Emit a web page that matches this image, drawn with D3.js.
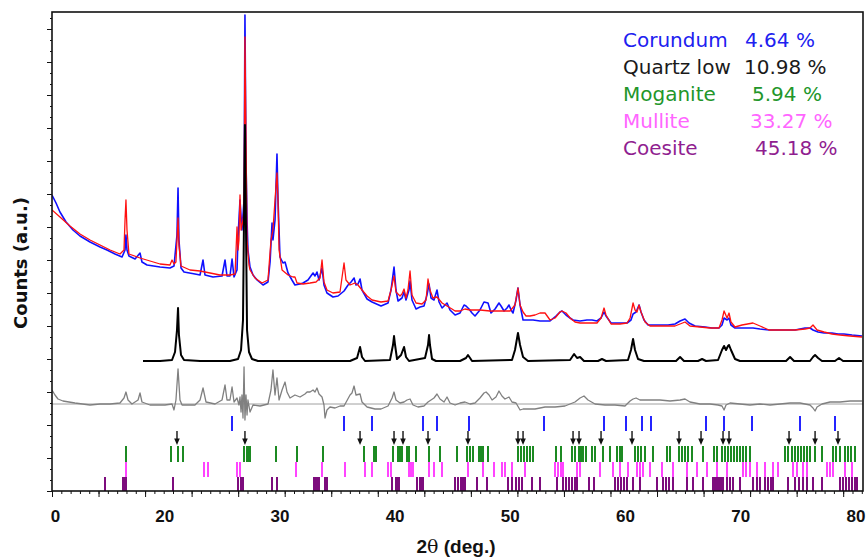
<!DOCTYPE html>
<html>
<head>
<meta charset="utf-8">
<script src="https://cdn.jsdelivr.net/npm/d3@7"></script>
<style>
  body { margin: 0; background: #fff; }
  svg { display: block; }
</style>
</head>
<body>
<svg id="chart" width="866" height="558"></svg>
<script>
// ---- Pattern data: [2θ (deg), counts (a.u.)] ----
const observed = [[10.00,2960],[10.35,2880],[10.69,2790],[11.22,2690],[11.82,2610],[12.43,2550],[13.30,2490],[14.17,2440],[14.77,2410],[15.47,2370],[16.08,2340],[16.34,2410],[16.42,2560],[16.51,2410],[16.68,2350],[17.21,2320],[17.64,2380],[17.81,2290],[18.25,2260],[19.38,2240],[20.24,2230],[20.59,2250],[20.85,2560],[20.94,3030],[21.02,2510],[21.20,2230],[21.46,2190],[22.41,2170],[22.85,2160],[23.11,2310],[23.28,2160],[23.98,2140],[24.76,2150],[25.02,2310],[25.19,2150],[25.45,2150],[25.63,2320],[25.80,2140],[26.06,2210],[26.15,2540],[26.32,2910],[26.49,2610],[26.58,2760],[26.67,2910],[26.75,4760],[26.84,3310],[26.93,2710],[27.01,2410],[27.19,2240],[27.45,2160],[27.80,2110],[28.32,2060],[28.75,2090],[28.93,2290],[29.10,2680],[29.18,2510],[29.36,2710],[29.53,3370],[29.62,2910],[29.79,2340],[30.05,2280],[30.23,2290],[30.49,2180],[30.83,2110],[31.09,2060],[31.53,2070],[31.79,2080],[32.22,2110],[32.66,2180],[32.83,2150],[33.00,2190],[33.18,2110],[33.44,2230],[33.61,2060],[33.87,1980],[34.39,1940],[34.83,1950],[35.35,2000],[35.70,2060],[35.96,2090],[36.22,2130],[36.39,2060],[36.56,2070],[36.74,2120],[36.91,2010],[37.35,1920],[37.78,1890],[38.56,1850],[39.17,1880],[39.43,2010],[39.69,2240],[39.86,2010],[40.04,1900],[40.38,1930],[40.56,1990],[40.73,1910],[40.99,2010],[41.08,2100],[41.25,1910],[41.60,1820],[41.95,1840],[42.29,1850],[42.55,1960],[42.73,2070],[42.90,1930],[43.16,1910],[43.42,2010],[43.60,1890],[43.86,1830],[44.12,1860],[44.29,1880],[44.55,1810],[44.99,1760],[45.42,1780],[45.77,1860],[45.94,1850],[46.20,1820],[46.46,1780],[46.72,1750],[47.15,1810],[47.50,1890],[47.85,1880],[48.11,1780],[48.46,1820],[48.80,1880],[48.98,1850],[49.24,1800],[49.50,1830],[49.67,1860],[49.85,1810],[50.02,1780],[50.28,1910],[50.45,2030],[50.63,1860],[50.89,1710],[51.32,1710],[51.76,1710],[52.36,1700],[52.80,1700],[53.23,1700],[53.75,1750],[54.10,1790],[54.27,1800],[54.62,1760],[54.97,1730],[55.23,1710],[55.84,1700],[56.44,1710],[56.88,1710],[57.31,1700],[57.66,1730],[57.92,1790],[58.09,1750],[58.53,1680],[59.31,1680],[59.92,1680],[60.26,1710],[60.44,1770],[60.70,1790],[60.96,1860],[61.13,1790],[61.39,1710],[61.74,1660],[62.35,1660],[62.96,1660],[63.48,1660],[64.08,1670],[64.52,1700],[64.95,1720],[65.30,1680],[65.82,1650],[66.69,1640],[67.29,1630],[67.90,1630],[68.16,1660],[68.34,1730],[68.60,1710],[68.77,1730],[68.94,1660],[69.29,1630],[69.90,1630],[70.85,1630],[71.46,1620],[72.24,1610],[73.02,1610],[73.72,1610],[74.50,1610],[74.93,1620],[75.37,1630],[75.80,1630],[76.06,1610],[76.50,1590],[77.02,1580],[77.71,1580],[78.23,1570],[78.75,1570],[79.45,1560],[80.31,1550]];

const calculated = [[10.00,2810],[10.69,2740],[11.56,2650],[12.43,2570],[13.30,2510],[14.17,2460],[15.04,2410],[15.90,2370],[16.25,2410],[16.34,2710],[16.42,2910],[16.51,2610],[16.68,2370],[17.64,2330],[19.38,2270],[20.24,2260],[20.42,2310],[20.59,2270],[20.76,2290],[20.85,2510],[20.94,2730],[21.02,2460],[21.20,2250],[21.98,2210],[22.85,2200],[23.72,2180],[24.58,2160],[25.45,2160],[25.89,2170],[26.06,2640],[26.15,2410],[26.23,2510],[26.32,2960],[26.41,2610],[26.58,2710],[26.67,2810],[26.75,4540],[26.93,2510],[27.10,2260],[27.19,2210],[27.62,2130],[28.23,2080],[28.75,2110],[29.01,2510],[29.18,2610],[29.36,2910],[29.53,3180],[29.62,2910],[29.71,2410],[29.97,2210],[30.49,2160],[30.92,2140],[31.09,2140],[31.27,2080],[31.79,2070],[32.40,2080],[32.92,2090],[33.26,2130],[33.44,2310],[33.61,2090],[33.87,2010],[34.39,1980],[35.00,1990],[35.35,2280],[35.52,2110],[35.87,2060],[36.30,2080],[36.56,2060],[36.91,2010],[37.35,1950],[37.78,1910],[38.56,1890],[39.17,1900],[39.43,2010],[39.69,2150],[39.86,1990],[40.21,1950],[40.38,1970],[40.56,2020],[40.73,1930],[40.90,2010],[41.08,2200],[41.25,1960],[41.60,1880],[42.12,1870],[42.47,1910],[42.64,2120],[42.81,2010],[43.07,1930],[43.42,1940],[43.86,1880],[44.29,1850],[44.72,1820],[44.99,1800],[45.42,1800],[45.85,1820],[46.29,1810],[47.15,1810],[48.02,1800],[48.89,1800],[49.76,1800],[50.19,1860],[50.45,2030],[50.63,1860],[50.89,1790],[51.15,1750],[51.49,1750],[51.93,1760],[52.36,1780],[52.80,1780],[53.23,1710],[53.67,1730],[54.10,1790],[54.27,1800],[54.62,1780],[54.97,1730],[55.40,1690],[55.84,1680],[56.27,1680],[56.70,1680],[57.31,1680],[57.66,1730],[57.92,1830],[58.09,1760],[58.53,1670],[59.31,1670],[59.92,1680],[60.18,1730],[60.44,1880],[60.61,1810],[60.78,1790],[60.96,1860],[61.13,1790],[61.48,1690],[61.91,1650],[62.78,1650],[63.48,1650],[64.08,1650],[64.52,1670],[64.95,1690],[65.38,1650],[66.25,1640],[67.12,1630],[67.90,1630],[68.16,1710],[68.34,1800],[68.60,1730],[68.77,1780],[68.94,1690],[69.29,1640],[69.90,1660],[70.85,1680],[71.46,1650],[72.24,1610],[73.02,1610],[73.72,1610],[74.50,1610],[75.37,1620],[75.80,1630],[76.06,1660],[76.41,1610],[77.02,1590],[77.71,1570],[78.41,1560],[79.28,1550],[80.31,1540]];

const quartzProfile = [[17.90,1300],[19.38,1300],[20.42,1310],[20.68,1390],[20.85,1610],[20.94,1830],[21.02,1560],[21.20,1360],[21.46,1310],[22.85,1300],[25.45,1300],[26.15,1320],[26.41,1410],[26.58,1710],[26.75,3660],[26.93,1610],[27.10,1390],[27.36,1320],[27.88,1300],[35.87,1300],[36.48,1330],[36.74,1440],[36.91,1340],[37.17,1300],[39.34,1310],[39.60,1460],[39.69,1550],[39.78,1460],[39.95,1320],[40.30,1360],[40.56,1440],[40.73,1340],[40.99,1300],[42.38,1330],[42.64,1460],[42.73,1560],[42.81,1460],[42.99,1320],[43.33,1300],[45.42,1300],[45.94,1330],[46.11,1360],[46.29,1330],[46.46,1300],[49.93,1310],[50.19,1410],[50.45,1580],[50.63,1460],[50.89,1340],[51.32,1300],[54.97,1310],[55.32,1370],[55.58,1330],[55.84,1340],[56.18,1300],[57.40,1300],[57.74,1320],[58.09,1300],[60.00,1310],[60.26,1410],[60.44,1520],[60.61,1410],[60.87,1320],[61.39,1300],[64.17,1300],[64.52,1340],[64.86,1300],[66.08,1300],[66.43,1320],[66.77,1300],[67.82,1310],[68.16,1410],[68.34,1450],[68.51,1410],[68.68,1450],[68.77,1460],[68.94,1410],[69.29,1320],[69.72,1300],[73.72,1300],[74.07,1340],[74.41,1300],[75.80,1300],[76.06,1340],[76.24,1360],[76.50,1330],[76.84,1300],[77.97,1300],[78.32,1330],[78.67,1300],[80.31,1300]];

const differenceZero = 870;
const difference = [[10.00,1010],[10.26,960],[10.52,920],[10.95,900],[11.99,880],[13.30,860],[14.17,870],[15.04,870],[15.90,880],[16.25,930],[16.42,990],[16.60,910],[16.94,870],[17.47,910],[17.64,980],[17.81,890],[18.51,860],[19.81,860],[20.42,870],[20.59,810],[20.76,910],[20.94,1220],[21.11,910],[21.29,860],[22.41,860],[22.85,910],[23.11,1030],[23.37,890],[24.15,870],[24.76,910],[25.02,1060],[25.19,910],[25.45,910],[25.63,1040],[25.80,890],[26.06,930],[26.23,860],[26.32,940],[26.41,790],[26.49,960],[26.58,730],[26.67,1240],[26.75,710],[26.84,960],[26.93,760],[27.01,910],[27.19,790],[27.45,860],[28.06,850],[28.75,870],[29.01,1010],[29.18,1210],[29.36,960],[29.53,1130],[29.71,910],[29.97,1010],[30.23,1090],[30.40,990],[30.66,930],[31.09,960],[31.53,940],[31.96,970],[32.14,990],[32.40,990],[32.66,1010],[32.83,990],[33.00,1030],[33.18,970],[33.44,940],[33.61,860],[33.70,730],[33.87,810],[34.13,840],[34.57,830],[35.00,850],[35.35,850],[35.87,960],[36.04,980],[36.22,1050],[36.39,960],[36.74,970],[36.91,890],[37.35,840],[38.04,820],[38.56,820],[39.17,850],[39.52,930],[39.69,990],[39.86,910],[40.21,880],[40.56,890],[40.82,910],[41.08,920],[41.34,860],[41.77,840],[42.29,850],[42.64,890],[42.90,910],[43.16,930],[43.42,970],[43.68,920],[44.03,890],[44.29,940],[44.55,880],[44.99,860],[45.42,880],[45.85,890],[46.29,870],[46.72,880],[47.15,930],[47.50,980],[47.68,990],[47.94,960],[48.20,910],[48.54,940],[48.80,1000],[49.06,950],[49.32,920],[49.67,940],[49.93,890],[50.28,880],[50.63,810],[50.89,820],[51.32,820],[51.93,820],[52.80,840],[53.67,840],[54.53,850],[55.40,890],[55.84,930],[56.18,950],[56.53,910],[57.14,870],[58.01,860],[58.87,860],[59.74,850],[60.18,900],[60.44,920],[60.70,930],[61.04,910],[61.91,910],[62.78,910],[63.65,900],[64.52,910],[64.95,920],[65.38,890],[66.25,870],[67.12,870],[67.82,860],[68.16,850],[68.34,810],[68.51,860],[68.86,880],[69.72,870],[70.59,860],[71.46,870],[72.33,860],[73.20,870],[74.07,880],[74.93,880],[75.80,860],[76.06,830],[76.24,800],[76.41,840],[76.84,870],[77.54,890],[78.41,890],[79.28,900],[80.31,900]];

// ---- Bragg reflection positions (2θ) for each phase ----
const corundumPeaks = [25.63,35.35,37.78,42.21,43.42,46.20,52.71,57.92,59.83,61.22,62.00,66.77,68.34,70.77,74.93,77.97];
const quartzPeaks = [20.85,26.75,36.74,39.69,40.47,42.64,46.11,50.45,50.89,55.23,55.75,57.66,60.35,64.43,66.34,68.25,68.77,73.98,76.24,78.23];
const moganitePeaks = [16.42,20.33,20.94,21.37,26.67,26.93,27.01,27.19,29.45,31.27,33.52,37.08,37.95,38.13,39.60,40.04,40.21,40.38,40.82,40.99,41.60,42.73,43.68,45.16,46.03,46.29,46.55,47.07,47.24,47.42,47.85,50.45,50.71,50.97,51.23,51.49,51.76,53.75,54.19,55.14,55.40,55.75,55.92,56.10,56.36,56.88,57.14,57.83,58.44,59.05,59.31,59.48,60.61,60.87,61.13,61.48,62.17,63.39,63.65,64.43,64.69,64.95,65.21,65.56,66.51,67.47,67.73,68.16,68.42,68.68,68.94,69.20,69.46,69.72,69.98,70.25,70.59,73.63,73.89,74.24,74.50,74.76,75.02,75.28,75.54,75.80,76.24,76.84,77.80,78.06,78.41,78.84,79.10,79.36,79.71];
const mullitePeaks = [16.42,23.20,23.54,26.06,26.32,31.18,33.44,35.44,37.17,37.78,39.17,39.43,40.99,41.16,41.34,42.73,43.16,43.86,46.11,47.42,48.37,49.06,49.32,49.93,51.06,53.67,53.93,54.19,54.36,55.58,55.84,57.57,58.70,59.31,60.00,60.78,61.04,61.30,61.91,62.96,63.91,65.12,65.99,66.86,67.73,68.60,69.98,70.25,70.59,71.20,71.90,72.59,73.02,74.33,74.67,75.19,75.54,77.28,77.54,77.80,78.84,79.45];
const coesitePeaks = [14.60,16.16,16.25,16.42,20.50,26.15,26.41,26.58,29.10,29.53,32.74,32.92,33.09,33.18,33.70,33.87,39.52,39.86,40.04,40.12,41.69,41.95,42.12,42.21,44.99,45.25,45.51,45.68,45.85,46.89,47.76,49.59,49.93,50.28,50.54,50.80,51.67,52.36,53.84,54.36,54.62,54.88,55.14,55.40,55.58,56.62,57.05,58.87,59.13,59.39,59.66,59.92,60.44,61.04,62.52,63.04,63.30,63.56,63.91,65.12,65.64,66.51,67.38,67.56,67.73,67.90,68.08,68.25,68.60,68.86,69.12,69.72,70.85,71.20,71.46,71.90,72.16,72.42,72.59,73.89,74.50,74.85,75.19,75.54,76.06,76.84,78.41,78.67,78.93,79.19,79.45,79.71,79.88];

// ---- Legend (phase fractions) ----
const phaseNames = ["Corundum", "Quartz low", "Moganite", "Mullite", "Coesite"];
const phaseFractions = ["4.64 %", "10.98 %", "5.94 %", "33.27 %", "45.18 %"];
const phaseColors = ["#2020f0", "#1a1a1a", "#22962a", "#ff66ff", "#901e90"];

// ---- Axis tick labels ----
const xLabelValues = [10, 20, 30, 40, 50, 60, 70, 80];
const xLabelTexts = ["0", "20", "30", "40", "50", "60", "70", "80"];

// ---- Layout ----
const plot = { left: 52, right: 863, top: 12, bottom: 491 };
const svg = d3.select("#chart");

const x = d3.scaleLinear().domain([10, 80.4]).range([plot.left, plot.right]);
const y = d3.scaleLinear().domain([0, 4790]).range([plot.bottom, plot.top]);

svg.append("defs").append("clipPath").attr("id", "plotClip")
  .append("rect")
  .attr("x", plot.left).attr("y", plot.top)
  .attr("width", plot.right - plot.left).attr("height", plot.bottom - plot.top);

const g = svg.append("g").attr("clip-path", "url(#plotClip)");
const line = d3.line().x(d => x(d[0])).y(d => y(d[1]));

// difference curve and its zero line
g.append("line")
  .attr("x1", plot.left).attr("x2", plot.right)
  .attr("y1", y(differenceZero)).attr("y2", y(differenceZero))
  .attr("stroke", "#a0a0a0").attr("stroke-width", 1);
g.append("path").datum(difference)
  .attr("d", line).attr("fill", "none")
  .attr("stroke", "#808080").attr("stroke-width", 1.3).attr("stroke-linejoin", "round");

// observed, calculated and quartz profiles
g.append("path").datum(observed)
  .attr("d", line).attr("fill", "none")
  .attr("stroke", "#1010ff").attr("stroke-width", 1.6).attr("stroke-linejoin", "round");
g.append("path").datum(calculated)
  .attr("d", line).attr("fill", "none")
  .attr("stroke", "#ff1010").attr("stroke-width", 1.3).attr("stroke-linejoin", "round");
g.append("path").datum(quartzProfile)
  .attr("d", line).attr("fill", "none")
  .attr("stroke", "#000").attr("stroke-width", 2).attr("stroke-linejoin", "round");

// reflection marker rows
const rows = [
  { peaks: corundumPeaks, color: "#2424ff", y0: 416, y1: 431 },
  { peaks: moganitePeaks, color: "#1c8a22", y0: 446, y1: 462 },
  { peaks: mullitePeaks, color: "#ff44ff", y0: 462, y1: 477 },
  { peaks: coesitePeaks, color: "#7d0c7d", y0: 477, y1: 491 }
];
rows.forEach(r => {
  g.append("g").selectAll("line").data(r.peaks).join("line")
    .attr("x1", d => x(d)).attr("x2", d => x(d))
    .attr("y1", r.y0).attr("y2", r.y1)
    .attr("stroke", r.color).attr("stroke-width", 1.5)
    .attr("shape-rendering", "crispEdges");
});

// quartz reflections drawn as downward arrows
const arrows = g.append("g").selectAll("g").data(quartzPeaks).join("g");
arrows.append("line")
  .attr("x1", d => x(d)).attr("x2", d => x(d))
  .attr("y1", 431).attr("y2", 441)
  .attr("stroke", "#111").attr("stroke-width", 1.4);
arrows.append("path")
  .attr("d", d => `M${x(d) - 2.8},438.5 L${x(d) + 2.8},438.5 L${x(d)},445 Z`)
  .attr("fill", "#111");

// frame
svg.append("rect")
  .attr("x", plot.left).attr("y", plot.top)
  .attr("width", plot.right - plot.left).attr("height", plot.bottom - plot.top)
  .attr("fill", "none").attr("stroke", "#111").attr("stroke-width", 1.6);

// bottom tick marks
const xTickStep = 4.04;
const xMajor = d3.range(10, 80.4, xTickStep);
const xMinor = d3.range(10, 80.4, xTickStep / 5);
const xMinorAxis = svg.append("g").attr("transform", `translate(0,${plot.bottom})`)
  .call(d3.axisBottom(x).tickValues(xMinor).tickSize(3).tickFormat(""));
const xMajorAxis = svg.append("g").attr("transform", `translate(0,${plot.bottom})`)
  .call(d3.axisBottom(x).tickValues(xMajor).tickSize(6).tickFormat(""));
[xMinorAxis, xMajorAxis].forEach(a => {
  a.select(".domain").remove();
  a.selectAll("line").attr("stroke", "#111").attr("stroke-width", 1);
});

// bottom tick labels
const xLabelAxis = svg.append("g").attr("transform", `translate(0,${plot.bottom})`)
  .call(d3.axisBottom(x).tickValues(xLabelValues).tickSize(0).tickPadding(19)
    .tickFormat((d, i) => xLabelTexts[i]));
xLabelAxis.select(".domain").remove();
xLabelAxis.selectAll("text")
  .attr("dx", (d, i) => i === 0 ? 3 : -3)
  .attr("font-family", "'Liberation Sans', Arial, sans-serif")
  .attr("font-weight", "bold").attr("font-size", 17).attr("fill", "#111");

// left tick marks
const yMajor = d3.range(0, 4790, 330);
const yMinor = d3.range(0, 4790, 110);
const yMinorAxis = svg.append("g").attr("transform", `translate(${plot.left},0)`)
  .call(d3.axisLeft(y).tickValues(yMinor).tickSize(2).tickFormat(""));
const yMajorAxis = svg.append("g").attr("transform", `translate(${plot.left},0)`)
  .call(d3.axisLeft(y).tickValues(yMajor).tickSize(5).tickFormat(""));
[yMinorAxis, yMajorAxis].forEach(a => {
  a.select(".domain").remove();
  a.selectAll("line").attr("stroke", "#111").attr("stroke-width", 1);
});

// axis titles
const xTitle = svg.append("text")
  .attr("x", 456).attr("y", 553).attr("text-anchor", "middle")
  .attr("font-family", "'Liberation Sans', Arial, sans-serif")
  .attr("font-weight", "bold").attr("font-size", 19).attr("fill", "#111");
xTitle.append("tspan").text("2");
xTitle.append("tspan").attr("font-family", "'DejaVu Serif', serif").attr("font-weight", "normal").text("θ");
xTitle.append("tspan").text(" (deg.)");

svg.append("text")
  .attr("transform", "translate(27,263) rotate(-90)")
  .attr("text-anchor", "middle")
  .attr("font-family", "'DejaVu Sans', sans-serif")
  .attr("font-weight", "bold").attr("font-size", 18).attr("fill", "#111")
  .text("Counts (a.u.)");

// legend
const legendX = 623, legendValueX = [745, 744, 752, 750, 755];
const legendBaseline = 47, legendStep = 27;
const legend = svg.append("g")
  .attr("font-family", "'DejaVu Sans', sans-serif").attr("font-size", 20);
phaseNames.forEach((name, i) => {
  legend.append("text")
    .attr("x", legendX).attr("y", legendBaseline + i * legendStep)
    .attr("fill", phaseColors[i]).text(name);
  legend.append("text")
    .attr("x", legendValueX[i]).attr("y", legendBaseline + i * legendStep)
    .attr("fill", phaseColors[i]).text(phaseFractions[i]);
});
</script>
</body>
</html>
